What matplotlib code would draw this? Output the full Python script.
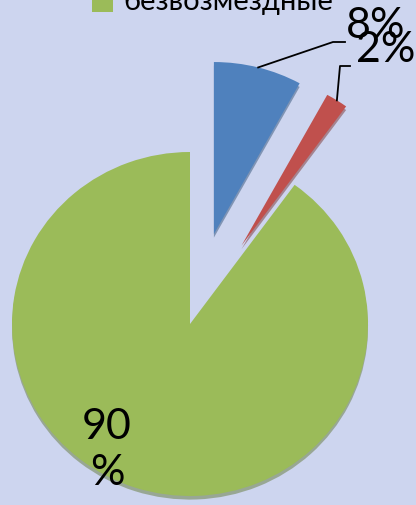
"""Revenue structure pie chart (exploded slices, Excel-like style)."""
import matplotlib
matplotlib.use("Agg")
import matplotlib.pyplot as plt
import numpy as np

# data
categories = ["налоговые", "неналоговые", "безвозмездные"]
shares = [8, 2, 90]
labels = ["8%", "2%", "90\n%"]
colors = ["#4f81bd", "#c0504d", "#9bbb59"]
explode = [0.54, 0.54, 0.0]

plt.rcParams["font.family"] = ["Lato", "DejaVu Sans"]
BG = "#cdd5ef"

# pie centre at pixel (190, 325); slightly wider than tall like the original
CX, CY, RX, RY = 190, 325, 178, 172
W, H = 416, 506


def px(x, y):
    """pixel (from top-left) -> data coords"""
    return (x - CX) / RX, (CY - y) / RY


fig = plt.figure(figsize=(W / 100, H / 100), dpi=100, facecolor=BG)
ax = fig.add_axes([0, 0, 1, 1])
ax.set_facecolor(BG)

wedges, _ = ax.pie(
    shares,
    colors=colors,
    explode=explode,
    startangle=90,
    counterclock=False,
    radius=1.0,
    shadow={"ox": 0.0, "oy": -0.015, "shade": 0.35},
    wedgeprops={"linewidth": 0},
)

ax.set_xlim(-CX / RX, (W - CX) / RX)
ax.set_ylim(-(H - CY) / RY, CY / RY)
ax.set_aspect("auto")
ax.axis("off")


def arc_mid(w):
    ang = np.deg2rad((w.theta1 + w.theta2) / 2)
    cx, cy = w.center
    return cx + w.r * np.cos(ang), cy + w.r * np.sin(ang)


# leader lines + labels for the two small slices (pixel positions)
label_px = [(346, 26), (356, 50)]
elbow_px = [(333, 43), (340, 67)]
end_px = [(345, 43), (350, 67)]
for w, lab, lp, ep, hp in zip(wedges[:2], labels[:2], label_px, elbow_px, end_px):
    sx, sy = arc_mid(w)
    (ex, ey), (hx, hy) = px(*ep), px(*hp)
    ax.plot([sx, ex, hx], [sy, ey, hy], color="black", lw=1.3, clip_on=False)
    ax.text(*px(*lp), lab, fontsize=31, ha="left", va="center", color="black")

ax.text(*px(107, 450), labels[2], fontsize=31, ha="center", va="center",
        linespacing=1.25, color="black")

fig.legend(
    handles=[wedges[2]],
    labels=[categories[2]],
    loc="lower left",
    bbox_to_anchor=(92 / W, 1 - 15 / H),
    frameon=False,
    fontsize=21,
    handlelength=0.72,
    handleheight=1.0,
    handletextpad=0.35,
    borderpad=0,
    borderaxespad=0,
)

fig.savefig("out.png", dpi=100, facecolor=BG)
